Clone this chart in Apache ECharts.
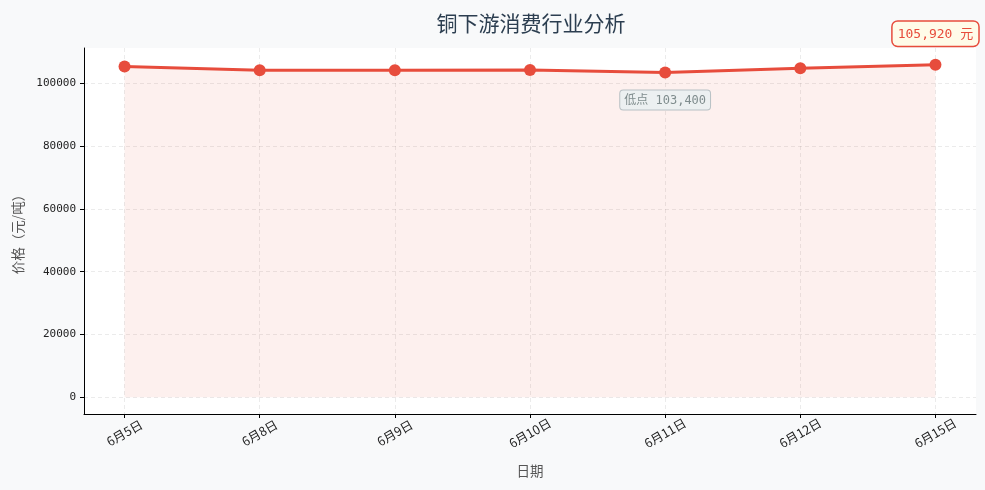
<!DOCTYPE html>
<html>
<head>
<meta charset="utf-8">
<script src="https://cdn.jsdelivr.net/npm/echarts@6/dist/echarts.min.js"></script>
<style>
  html, body { margin: 0; padding: 0; background: #f8f9fa; }
  #chart { width: 985px; height: 490px; }
</style>
</head>
<body>
<div id="chart"></div>
<script>
var dates = ['6月5日', '6月8日', '6月9日', '6月10日', '6月11日', '6月12日', '6月15日'];
var prices = [105300, 104150, 104150, 104200, 103400, 104800, 105920];
var yTicks = [0, 20000, 40000, 60000, 80000, 100000];
var xTicks = [0, 1, 2, 3, 4, 5, 6];

var FONT = "'DejaVu Sans Mono', 'Noto Sans CJK SC', sans-serif";
var CJK = "'Noto Sans CJK SC', sans-serif";
var RED = '#e74c3c';

// 最低点 / 最新点
var lowIdx = 0;
for (var i = 0; i < prices.length; i++) {
    if (prices[i] < prices[lowIdx]) lowIdx = i;
}
var lastIdx = prices.length - 1;

function fmt(v) {
    return String(v).replace(/\B(?=(\d{3})+(?!\d))/g, ',');
}

var seriesData = [];
for (var i = 0; i < prices.length; i++) {
    var item = { value: [i, prices[i]] };
    if (i === lastIdx) {
        item.label = {
            show: true,
            position: 'top',
            distance: 13,
            formatter: fmt(prices[i]) + ' 元',
            color: RED,
            fontSize: 13,
            fontFamily: FONT,
            backgroundColor: '#fffbe8',
            borderColor: RED,
            borderWidth: 1.5,
            borderRadius: 5,
            padding: [6, 5, 5, 5]
        };
    } else if (i === lowIdx) {
        item.label = {
            show: true,
            position: 'bottom',
            distance: 12,
            formatter: '低点 ' + fmt(prices[i]),
            color: '#7f8c8d',
            fontSize: 12,
            fontFamily: FONT,
            backgroundColor: '#ecf0f1',
            borderColor: '#b8c0c4',
            borderWidth: 1,
            borderRadius: 3,
            padding: [4, 4, 3, 4]
        };
    }
    seriesData.push(item);
}

// matplotlib 风格的 5% 边距
var yMax = Math.max.apply(null, prices);
var pad = yMax * 0.05;

var splitStyle = { show: true, lineStyle: { color: 'rgba(0,0,0,0.1)', type: [4, 3], width: 0.8 } };

var myChart = echarts.init(document.getElementById('chart'));
var option = {
    backgroundColor: '#f8f9fa',
    textStyle: { fontFamily: FONT },
    title: {
        text: '铜下游消费行业分析',
        left: 526,
        textAlign: 'center',
        top: 8,
        textStyle: { fontSize: 21, fontWeight: 'normal', color: '#2c3e50', fontFamily: CJK }
    },
    grid: {
        left: 84, right: 9, top: 48, bottom: 76,
        outerBoundsMode: 'none',
        show: true, backgroundColor: '#ffffff', borderWidth: 0
    },
    xAxis: {
        type: 'value',
        min: -0.3,
        max: 6.3,
        name: '日期',
        nameLocation: 'middle',
        nameGap: 50,
        nameTextStyle: { fontSize: 13.5, color: '#555', fontFamily: CJK },
        axisLine: { show: true, onZero: false, lineStyle: { color: '#000', width: 1 } },
        axisTick: { show: true, length: 4, customValues: xTicks, lineStyle: { color: '#000' } },
        axisLabel: {
            customValues: xTicks,
            rotate: 30,
            align: 'center',
            verticalAlign: 'middle',
            margin: 19,
            fontSize: 12.5,
            color: '#222',
            fontFamily: CJK,
            formatter: function (v) { return dates[Math.round(v)]; }
        },
        splitLine: splitStyle
    },
    yAxis: {
        type: 'value',
        min: -pad,
        max: yMax + pad,
        name: '价格（元/吨）',
        nameLocation: 'middle',
        nameGap: 59,
        nameTextStyle: { fontSize: 13.5, color: '#555', fontFamily: CJK },
        axisLine: { show: true, onZero: false, lineStyle: { color: '#000', width: 1 } },
        axisTick: { show: true, length: 4, customValues: yTicks, lineStyle: { color: '#000' } },
        axisLabel: {
            customValues: yTicks, fontSize: 11, color: '#222', margin: 8,
            formatter: function (v) { return String(v); }
        },
        splitLine: splitStyle
    },
    series: [
        {
            type: 'line',
            data: seriesData,
            symbol: 'circle',
            symbolSize: 12,
            lineStyle: { color: RED, width: 3 },
            itemStyle: { color: RED },
            areaStyle: { color: 'rgba(231,76,60,0.12)' },
            z: 3
        }
    ]
};
myChart.setOption(option);
</script>
</body>
</html>
